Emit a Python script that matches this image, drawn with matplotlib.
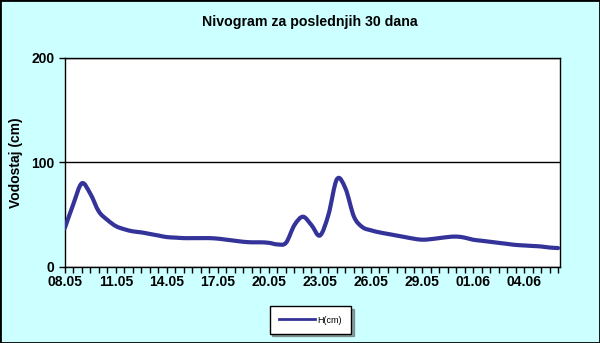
import matplotlib
matplotlib.use('Agg')
import matplotlib.pyplot as plt
from matplotlib.ticker import MultipleLocator
from matplotlib.path import Path
from matplotlib.patches import PathPatch
from matplotlib.lines import Line2D

# water level H(cm), one reading every 12 hours starting 08.05
days = [i * 0.5 for i in range(59)]
level = [37, 60, 80, 70, 53, 45, 39, 36, 34, 33,
         31.5, 30, 28.5, 28, 27.5, 27.5, 27.5, 27.5, 27, 26,
         25, 24, 23.5, 23.5, 23, 21.5, 23, 40, 48, 40,
         30, 50, 84, 75, 48, 38, 35, 33, 31.5, 30,
         28.5, 27, 26, 26.5, 27.5, 28.5, 29, 28, 26, 25,
         24, 23, 22, 21, 20.5, 20, 19.5, 18.5, 18]

tick_days = [0, 3, 6, 9, 12, 15, 18, 21, 24, 27]
tick_labels = ['08.05', '11.05', '14.05', '17.05', '20.05',
               '23.05', '26.05', '29.05', '01.06', '04.06']

plt.rcParams['font.family'] = ['Liberation Sans', 'DejaVu Sans']

fig = plt.figure(figsize=(6, 3.43), dpi=100, facecolor='#CCFFFF')
ax = fig.add_axes([0.108, 0.222, 0.825, 0.609])
ax.set_facecolor('white')

# Excel-style smoothed line: bezier segments through the readings
pts = list(zip(days, level))
verts = [pts[0]]
codes = [Path.MOVETO]
for i in range(len(pts) - 1):
    p0 = pts[max(i - 1, 0)]
    p1 = pts[i]
    p2 = pts[i + 1]
    p3 = pts[min(i + 2, len(pts) - 1)]
    c1 = (p1[0] + (p2[0] - p0[0]) / 6, p1[1] + (p2[1] - p0[1]) / 6)
    c2 = (p2[0] - (p3[0] - p1[0]) / 6, p2[1] - (p3[1] - p1[1]) / 6)
    verts += [c1, c2, p2]
    codes += [Path.CURVE4] * 3
ax.add_patch(PathPatch(Path(verts, codes), fill=False, edgecolor='#333399',
                       lw=3, capstyle='round', joinstyle='round', zorder=3))

ax.set_xlim(0, 29.1)
ax.set_ylim(0, 200)
ax.set_yticks([0, 100, 200])
ax.yaxis.grid(True, color='black', lw=1)
ax.set_axisbelow(True)
ax.set_xticks(tick_days)
ax.set_xticklabels(tick_labels)
ax.xaxis.set_minor_locator(MultipleLocator(0.5))
ax.tick_params(axis='both', which='both', direction='out', length=4,
               width=1, labelsize=10, colors='black')
ax.tick_params(axis='x', which='major', pad=2)
for lab in ax.get_xticklabels() + ax.get_yticklabels():
    lab.set_fontweight('bold')
for s in ax.spines.values():
    s.set_color('black')
    s.set_linewidth(1)

ax.set_ylabel('Vodostaj (cm)', fontsize=10, fontweight='bold', labelpad=6)
fig.text(0.517, 0.935, 'Nivogram za poslednjih 30 dana', ha='center',
         va='center', fontsize=10.2, fontweight='bold')

handle = Line2D([], [], color='#333399', lw=2)
leg = fig.legend([handle], ['H(cm)'], loc='center',
                 bbox_to_anchor=(0.517, 0.067), fontsize=6.5,
                 frameon=True, fancybox=False, shadow=True, handlelength=4,
                 borderpad=1.0, handletextpad=0.3)
leg.get_frame().set_edgecolor('black')
leg.get_frame().set_linewidth(1)

fig.patches.append(plt.Rectangle((0, 0), 1, 1, transform=fig.transFigure,
                                 fill=False, edgecolor='black', lw=2))

fig.savefig('out.png', dpi=100, facecolor=fig.get_facecolor())
